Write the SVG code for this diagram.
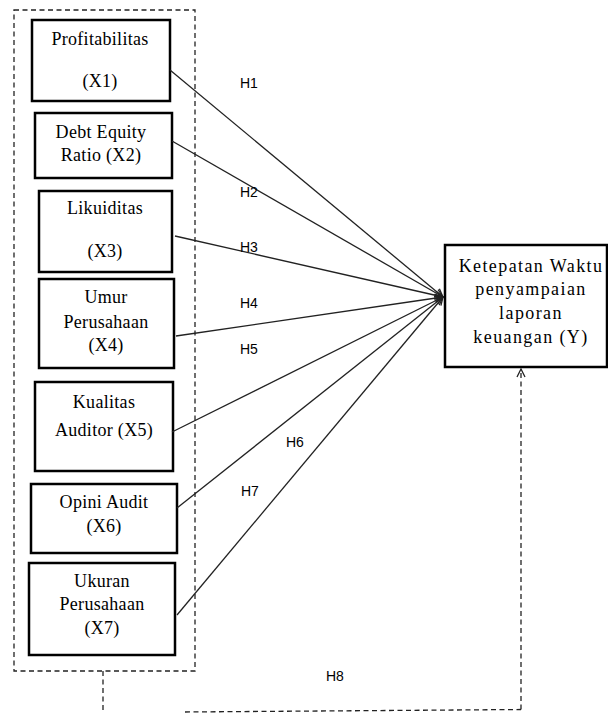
<svg xmlns="http://www.w3.org/2000/svg" width="608" height="713" viewBox="0 0 608 713">
<style>
.box{fill:#fff;stroke:#000;stroke-width:2.5}
.t{font-family:"Liberation Serif","Times New Roman",serif;font-size:18px;fill:#000;text-anchor:middle;letter-spacing:0.3px}
.ty{letter-spacing:1.4px}
.h{font-family:"Liberation Sans",Arial,sans-serif;font-size:14px;fill:#000}
.ln{stroke:#222;stroke-width:1.3;fill:none}
.dash{stroke:#222;stroke-width:1.3;fill:none;stroke-dasharray:5,3.5}
</style>
<defs>
<marker id="arr" viewBox="0 0 10 10" refX="9" refY="5" markerWidth="10" markerHeight="10" markerUnits="userSpaceOnUse" orient="auto">
<path d="M1,1 L9,5 L1,9" fill="none" stroke="#222" stroke-width="1.3"/>
</marker>
</defs>
<rect x="0" y="0" width="608" height="713" fill="#fff"/>
<rect x="14" y="10" width="181" height="661" class="dash"/>
<g id="x1"><rect class="box" x="32" y="20" width="138" height="81"/><text class="t" x="100" y="45">Profitabilitas</text><text class="t" x="100" y="87">(X1)</text></g>
<g id="x2"><rect class="box" x="35" y="113" width="137" height="65"/><text class="t" x="101" y="138">Debt Equity</text><text class="t" x="101" y="161">Ratio (X2)</text></g>
<g id="x3"><rect class="box" x="39" y="191" width="133" height="81"/><text class="t" x="105" y="214">Likuiditas</text><text class="t" x="105" y="257">(X3)</text></g>
<g id="x4"><rect class="box" x="39" y="279" width="135" height="89"/><text class="t" x="106" y="303">Umur</text><text class="t" x="106" y="328">Perusahaan</text><text class="t" x="106" y="351">(X4)</text></g>
<g id="x5"><rect class="box" x="35" y="382" width="138" height="89"/><text class="t" x="104" y="408">Kualitas</text><text class="t" x="104" y="436">Auditor (X5)</text></g>
<g id="x6"><rect class="box" x="31" y="484" width="146" height="69"/><text class="t" x="104" y="508">Opini Audit</text><text class="t" x="104" y="532">(X6)</text></g>
<g id="x7"><rect class="box" x="29" y="563" width="146" height="92"/><text class="t" x="102" y="587">Ukuran</text><text class="t" x="102" y="610">Perusahaan</text><text class="t" x="102" y="634">(X7)</text></g>
<g id="y"><rect class="box" x="445" y="245" width="162" height="122"/><text class="t ty" x="531" y="272">Ketepatan Waktu</text><text class="t ty" x="531" y="295">penyampaian</text><text class="t ty" x="531" y="319">laporan</text><text class="t ty" x="531" y="343">keuangan (Y)</text></g>
<g id="connectors">
<line class="ln" x1="170" y1="70" x2="443" y2="297" marker-end="url(#arr)"/>
<line class="ln" x1="172" y1="141" x2="443" y2="297" marker-end="url(#arr)"/>
<line class="ln" x1="175" y1="236" x2="443" y2="297" marker-end="url(#arr)"/>
<line class="ln" x1="176" y1="336" x2="443" y2="297" marker-end="url(#arr)"/>
<line class="ln" x1="172" y1="432" x2="443" y2="297" marker-end="url(#arr)"/>
<line class="ln" x1="177" y1="508" x2="443" y2="297" marker-end="url(#arr)"/>
<line class="ln" x1="177" y1="615" x2="443" y2="297" marker-end="url(#arr)"/>
<line class="dash" x1="103" y1="671" x2="103" y2="713"/>
<line class="dash" x1="185" y1="712" x2="521" y2="709.5"/>
<line class="dash" x1="521" y1="709.5" x2="521" y2="369" marker-end="url(#arr)"/>
</g>
<g id="labels">
<text class="h" x="240" y="88">H1</text>
<text class="h" x="240" y="197">H2</text>
<text class="h" x="240" y="252">H3</text>
<text class="h" x="240" y="308">H4</text>
<text class="h" x="240" y="354">H5</text>
<text class="h" x="286" y="447">H6</text>
<text class="h" x="241" y="496">H7</text>
<text class="h" x="326" y="681">H8</text>
</g>
</svg>
